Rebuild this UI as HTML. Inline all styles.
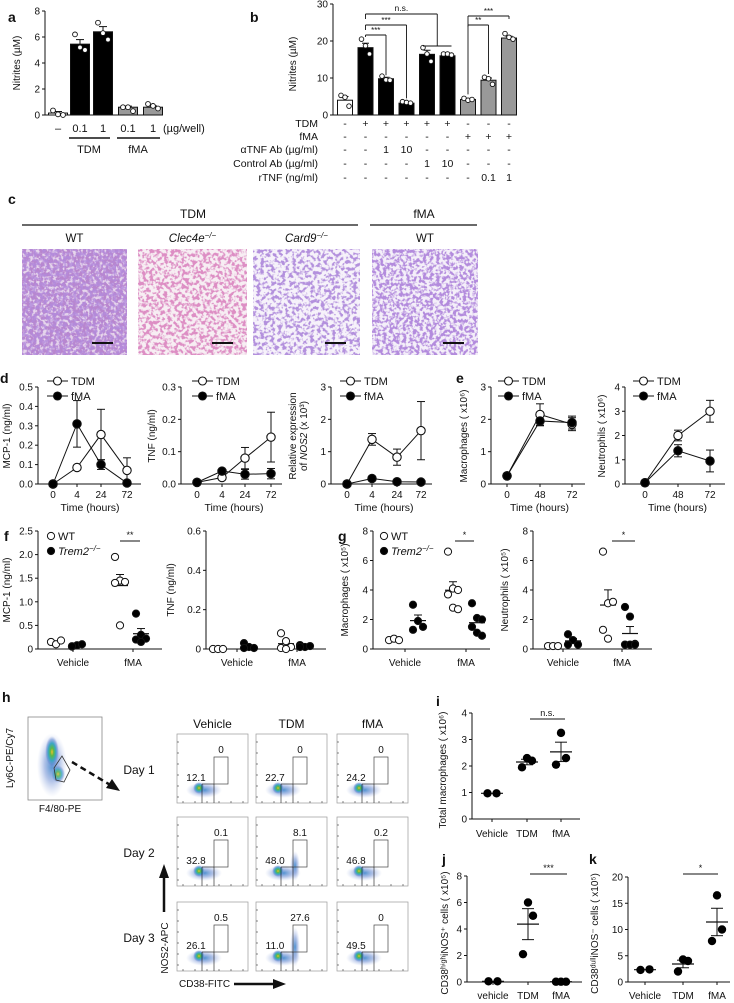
<!DOCTYPE html>
<html><head><meta charset="utf-8"><title>Figure</title>
<style>
html,body{margin:0;padding:0;background:#fff;}
svg{display:block;font-family:"Liberation Sans",Arial,sans-serif;}
text{fill:#111;}
</style></head>
<body>
<svg id="fig" width="734" height="1003" viewBox="0 0 734 1003" xmlns="http://www.w3.org/2000/svg">
<defs>
<radialGradient id="heat" cx="50%" cy="50%" r="50%">
<stop offset="0" stop-color="#f0c02a"/><stop offset="0.25" stop-color="#58b848"/><stop offset="0.55" stop-color="#3aa6c4"/><stop offset="0.8" stop-color="#6f8fd4" stop-opacity="0.6"/><stop offset="1" stop-color="#a9b9e6" stop-opacity="0"/>
</radialGradient>
<radialGradient id="cool" cx="50%" cy="50%" r="50%">
<stop offset="0" stop-color="#4a8fcf"/><stop offset="0.5" stop-color="#7d9ad8" stop-opacity="0.6"/><stop offset="1" stop-color="#b0bfe8" stop-opacity="0"/>
</radialGradient>
<filter id="h1" x="0" y="0" width="100%" height="100%"><feTurbulence type="fractalNoise" baseFrequency="0.3" numOctaves="2" seed="3"/><feColorMatrix type="matrix" values="0 0 0 0 0.48  0 0 0 0 0.24  0 0 0 0 0.62  6 0 0 0 -2.3"/></filter>
<filter id="h2" x="0" y="0" width="100%" height="100%"><feTurbulence type="fractalNoise" baseFrequency="0.28" numOctaves="2" seed="7"/><feColorMatrix type="matrix" values="0 0 0 0 0.72  0 0 0 0 0.27  0 0 0 0 0.55  6 0 0 0 -2.7"/></filter>
<filter id="h3" x="0" y="0" width="100%" height="100%"><feTurbulence type="fractalNoise" baseFrequency="0.28" numOctaves="2" seed="11"/><feColorMatrix type="matrix" values="0 0 0 0 0.45  0 0 0 0 0.28  0 0 0 0 0.72  6 0 0 0 -2.8"/></filter>
<filter id="h4" x="0" y="0" width="100%" height="100%"><feTurbulence type="fractalNoise" baseFrequency="0.3" numOctaves="2" seed="19"/><feColorMatrix type="matrix" values="0 0 0 0 0.45  0 0 0 0 0.26  0 0 0 0 0.72  6 0 0 0 -2.6"/></filter>
</defs>
</svg>
<script>
// ---------- data ----------
const aCats = ['–','0.1','1','0.1','1'];
const aVals = [0.15, 5.45, 6.4, 0.6, 0.6];
const aErr = [0.12, 0.35, 0.4, 0.08, 0.1];
const aPts = [[0.35,0.05,0.0],[6.2,5.2,5.0],[7.1,6.3,5.8],[0.6,0.6,0.3],[0.85,0.7,0.5]];
const aTicks = [0,2,4,6,8];

const bVals = [4.0, 18.2, 9.8, 3.2, 16.4, 16.0, 4.2, 9.4, 20.8];
const bErr = [1.0, 1.2, 0.4, 0.2, 1.1, 0.2, 0.3, 0.6, 0.5];
const bPts = [[5.3,4.8,2.4],[20.5,18.7,16.5],[10.5,9.5,9.4],[3.6,3.4,3.2],[18.2,16.5,14.5],[16.5,16.5,16.2],[4.5,4.0,4.2],[10.2,9.8,8.3],[22,21,20.5]];
const bTicks = [0,10,20,30];
const bRowLabels = ['TDM','fMA','αTNF Ab (µg/ml)','Control Ab (µg/ml)','rTNF (ng/ml)'];
const bRows = [
 ['-','+','+','+','+','+','-','-','-'],
 ['-','-','-','-','-','-','+','+','+'],
 ['-','-','1','10','-','-','-','-','-'],
 ['-','-','-','-','1','10','-','-','-'],
 ['-','-','-','-','-','-','-','0.1','1']];

const timeCats = ['0','4','24','72'];
const d1TDM = [0, 0.085, 0.255, 0.07], d1TDMe = [0, 0, 0.13, 0.065];
const d1FMA = [0, 0.31, 0.10, 0.005], d1FMAe = [0, 0.12, 0.025, 0];
const d2TDM = [0.005, 0.02, 0.08, 0.145], d2TDMe = [0, 0, 0.033, 0.077];
const d2FMA = [0.005, 0.04, 0.03, 0.032], d2FMAe = [0, 0, 0.015, 0.016];
const d3TDM = [0, 1.38, 0.83, 1.65], d3TDMe = [0, 0.18, 0.25, 0.9];
const d3FMA = [0, 0.17, 0.07, 0.06], d3FMAe = [0, 0, 0, 0];
const eCats = ['0','48','72'];
const e1TDM = [0.25, 2.15, 1.85], e1TDMe = [0, 0.33, 0.2];
const e1FMA = [0.25, 1.95, 1.9], e1FMAe = [0, 0.15, 0.2];
const e2TDM = [0.05, 2.0, 3.0], e2TDMe = [0, 0.22, 0.45];
const e2FMA = [0.05, 1.37, 0.95], e2FMAe = [0, 0.25, 0.45];

const fgCats = ['Vehicle','fMA'];
const f1WT = [[0.15,0.1,0.18],[1.95,1.45,1.42,1.4,0.5]];
const f1KO = [[0.05,0.08,0.1,0.06],[0.75,0.3,0.22,0.2,0.15]];
const f2WT = [[0,0,0],[0.08,0.04,0.01,0.005,0.0]];
const f2KO = [[0.03,0.01,0.005,0.005],[0.02,0.01,0.015,0.01]];
const g1WT = [[0.6,0.7,0.6],[6.6,4.1,4.0,3.7,2.8,2.7]];
const g1KO = [[3.0,1.9,1.5,1.3],[3.1,2.1,2.0,1.5,1.1,0.9]];
const g2WT = [[0.2,0.2,0.2],[6.6,3.1,3.2,1.3,0.7]];
const g2KO = [[1.0,0.6,0.3,0.3],[2.85,2.2,0.35,0.3,0.3,0.3]];

const ijkCats = ['Vehicle','TDM','fMA'];
const iVals = [[0.97,0.97],[2.3,2.2,1.95],[3.25,2.3,2.05]];
const jVals = [[0.05,0.05],[6.0,5.0,2.1],[0.02,0.02,0.02]];
const kVals = [[2.3,2.4],[4.3,4.0,2.0],[16.5,10,7.8]];

const flowCols = ['Vehicle','TDM','fMA'];
const flowDays = ['Day 1','Day 2','Day 3'];
const flowHigh = [['0','0','0'],['0.1','8.1','0.2'],['0.5','27.6','0']];
const flowLow = [['12.1','22.7','24.2'],['32.8','48.0','46.8'],['26.1','11.0','49.5']];

// ---------- helpers ----------
const svg = document.getElementById('fig');
const NS = 'http://www.w3.org/2000/svg';
function el(tag, a, parent){ const e=document.createElementNS(NS,tag); for(const k in a) e.setAttribute(k,a[k]); (parent||svg).appendChild(e); return e; }
function lin(d0,d1,r0,r1){ return v => r0+(v-d0)*(r1-r0)/(d1-d0); }
function txt(x,y,s,size,anchor,parent,extra){ const t=el('text',Object.assign({x:x,y:y,'font-size':size,'text-anchor':anchor||'middle'},extra||{}),parent); t.textContent=s; return t; }
function line(x1,y1,x2,y2,parent,w){ return el('line',{x1:x1,y1:y1,x2:x2,y2:y2,stroke:'#111','stroke-width':w||1},parent); }
function group(name){ const g=el('g',{});   return g; }
function letter(x,y,s){ const t=txt(x,y,s,14,'start',svg,{'font-weight':'bold'});   }
function yAxis(g, x, sc, ticks, labels, yTop, yBot, size){
  const ax=line(x,yTop,x,yBot,g);  
  ticks.forEach((v,i)=>{ const y=sc(v); line(x-3,y,x,y,g); const t=txt(x-5,y+3.5,labels[i],size||10,'end',g);   });
}
function yTitle(g, x, y, s, size){ const t=txt(x,y,s,size||10,'middle',g,{transform:'rotate(-90 '+x+' '+y+')'});   return t; }
function errBar(g,x,y1,y2,cap){ line(x,y1,x,y2,g); line(x-cap,y1,x+cap,y1,g); }

// ---------- panel a ----------
letter(8,22,'a');
(function(){
  const g=group('panel-a-chart');
  const y=lin(0,8,115,11); const xs=[58,80,103,128,153]; const bw=19;
  yAxis(g,45,y,aTicks,aTicks.map(String),11,115,10);
  line(45,115,163,115,g);
  yTitle(g,20,63,'Nitrites (µM)');
  const fills=['#fff','#000','#000','#999','#999'];
  aVals.forEach((v,i)=>{
    errBar(g,xs[i],y(v+aErr[i]),y(v),4);
    const r=el('rect',{x:xs[i]-bw/2,y:y(v),width:bw,height:115-y(v),fill:fills[i],stroke:'#111','stroke-width':1},g);
     
    aPts[i].forEach((p,j)=>{ const c=el('circle',{cx:xs[i]+(j-1)*5,cy:y(p),r:2.4,fill:'#fff',stroke:'#111','stroke-width':0.9},g);   });
    const t=txt(xs[i],132,aCats[i],11,'middle',g);  
  });
  txt(163,132,'(µg/well)',11,'start',g);
  line(69,138,110,138,g,1.5); line(117,138,160,138,g,1.5);
  txt(89,153,'TDM',11,'middle',g); txt(138,153,'fMA',11,'middle',g);
})();

// ---------- panel b ----------
letter(250,22,'b');
(function(){
  const g=group('panel-b-chart');
  const y=lin(0,30,115,4); const x0=345, dx=20.5, bw=15;
  const xs=bVals.map((v,i)=>x0+i*dx);
  yAxis(g,333,y,bTicks,bTicks.map(String),4,115,10);
  line(333,115,517,115,g);
  yTitle(g,296,64,'Nitrites (µM)');
  bVals.forEach((v,i)=>{
    const f=i===0?'#fff':(i<6?'#000':'#999');
    errBar(g,xs[i],y(v+bErr[i]),y(v),3.5);
    const r=el('rect',{x:xs[i]-bw/2,y:y(v),width:bw,height:115-y(v),fill:f,stroke:'#111','stroke-width':1},g);
     
    bPts[i].forEach((p,j)=>{ const c=el('circle',{cx:xs[i]+(j-1)*4,cy:y(p),r:2.3,fill:'#fff',stroke:'#111','stroke-width':0.9},g);   });
  });
  const rowY=[127,140,153,167,181];
  bRowLabels.forEach((s,r)=>{
    const t=txt(318,rowY[r],s,10.5,'end',g);  
    bRows[r].forEach((v,i)=>txt(xs[i],rowY[r],v,10.5,'middle',g));
  });
  function br(i1,i2,yy,d1,d2,label){ const a=xs[i1],b=xs[i2]; line(a,yy,b,yy,g,0.9); line(a,yy,a,yy+d1,g,0.9); line(b,yy,b,yy+d2,g,0.9); txt((a+b)/2,yy-2,label,8,'middle',g); }
  br(1,2,35,2,y(bVals[2]+bErr[2])-37,'***');
  br(1,3,25,5,y(bVals[3]+bErr[3])-29,'***');
  const nsx=(xs[4]+xs[5])/2;
  line(xs[1],14,nsx,14,g,0.9); line(xs[1],14,xs[1],19,g,0.9); line(nsx,14,nsx,46,g,0.9);
  line(xs[4]-4,46,xs[5]+4,46,g,0.9); txt((xs[1]+nsx)/2,11,'n.s.',8.5,'middle',g);
  br(6,8,16,y(bVals[6]+bErr[6])-20,3,'***');
  br(6,7,25,2,y(bVals[7]+bErr[7])-29,'**');
})();

// ---------- panel c ----------
letter(8,204,'c');
(function(){
  const g=group('panel-c-histology');
  txt(193,218,'TDM',12,'middle',g); line(22,225,358,225,g,1.3);
  txt(424,218,'fMA',12,'middle',g); line(370,225,477,225,g,1.3);
  const imgs=[[22,127,'WT','h1','#e6d6ec'],[138,247,'Clec4e','h2','#f7eef3'],[253,360,'Card9','h3','#f6f2fa'],[372,478,'WT','h4','#f4eff9']];
  imgs.forEach((m,i)=>{
    const w=m[1]-m[0];
    if(m[2]==='WT') txt((m[0]+m[1])/2,242,'WT',11.5,'middle',g);
    else { const t=txt((m[0]+m[1])/2,242,'',11.5,'middle',g,{'font-style':'italic'}); t.textContent=m[2]; const s=el('tspan',{dy:-4,'font-size':8},t); s.textContent='−/−'; }
    const bg=el('rect',{x:m[0],y:249,width:w,height:106,fill:m[4]},g);
     
    el('rect',{x:m[0],y:249,width:w,height:106,fill:'#fff',filter:'url(#'+m[3]+')'},g);
    if(i===0){ el('rect',{x:m[0],y:249,width:w,height:106,fill:'#fff',filter:'url(#h4)',opacity:0.8},g); }
    line(m[1]-35,343,m[1]-14,343,g,2);
  });
})();

// ---------- line charts d/e ----------
function lineChart(name,ax,xEnd,xs,cats,yMax,ticks,labels,series,titles,titleX,legX){
  const g=group(name);
  const y=lin(0,yMax,484,387);
  yAxis(g,ax,y,ticks,labels,387,484,10);
  line(ax,484,xEnd,484,g);
  cats.forEach((c,i)=>{ line(xs[i],484,xs[i],487,g); const t=txt(xs[i],498,c,10,'middle',g);   });
  const tt=txt((xs[0]+xs[xs.length-1])/2,511,'Time (hours)',10.5,'middle',g);  
  if(titles.length===1) yTitle(g,titleX,436,titles[0]);
  else { yTitle(g,titleX-6,436,titles[0]); const t2=yTitle(g,titleX+5,436,''); t2.textContent='of '; const s=el('tspan',{'font-style':'italic'},t2); s.textContent='NOS2'; const s2=el('tspan',{},t2); s2.textContent=' (x 10³)'; }
  series.forEach((s,k)=>{
    const pts=s.v.map((v,i)=>xs[i]+','+y(v)).join(' ');
    const pl=el('polyline',{points:pts,fill:'none',stroke:'#111','stroke-width':1},g);
     
    s.v.forEach((v,i)=>{ if(s.e[i]>0){ errBar(g,xs[i],y(v+s.e[i]),y(v-s.e[i]>0?v-s.e[i]:0),4); line(xs[i]-4,y(Math.max(0,v-s.e[i])),xs[i]+4,y(Math.max(0,v-s.e[i])),g);} });
  });
  series.forEach((s,k)=>{ s.v.forEach((v,i)=>{ const c=el('circle',{cx:xs[i],cy:y(v),r:4.2,fill:s.fill,stroke:'#111','stroke-width':1.1},g);   }); });
  [['TDM','#fff',381],['fMA','#000',396]].forEach(l=>{ line(legX,l[2],legX+21,l[2],g); el('circle',{cx:legX+10.5,cy:l[2],r:4,fill:l[1],stroke:'#111','stroke-width':1.1},g); const t=txt(legX+24,l[2]+4,l[0],11,'start',g);   });
}
letter(0,383,'d');
lineChart('panel-d-mcp1',38,141,[53,77,101,127],timeCats,0.5,[0,0.1,0.2,0.3,0.4,0.5],['0.0','0.1','0.2','0.3','0.4','0.5'],
  [{n:'tdm',v:d1TDM,e:d1TDMe,fill:'#fff'},{n:'fma',v:d1FMA,e:d1FMAe,fill:'#000'}],['MCP-1 (ng/ml)'],10,47);
lineChart('panel-d-tnf',181,282,[197,222,245,271],timeCats,0.3,[0,0.1,0.2,0.3],['0.0','0.1','0.2','0.3'],
  [{n:'tdm',v:d2TDM,e:d2TDMe,fill:'#fff'},{n:'fma',v:d2FMA,e:d2FMAe,fill:'#000'}],['TNF (ng/ml)'],155,192);
lineChart('panel-d-nos2',331,432,[347,372,397,421],timeCats,3,[0,1,2,3],['0','1','2','3'],
  [{n:'tdm',v:d3TDM,e:d3TDMe,fill:'#fff'},{n:'fma',v:d3FMA,e:d3FMAe,fill:'#000'}],['Relative expression','x'],302,340);
letter(456,383,'e');
lineChart('panel-e-macrophages',491,585,[507,540,572],eCats,3,[0,1,2,3],['0','1','2','3'],
  [{n:'tdm',v:e1TDM,e:e1TDMe,fill:'#fff'},{n:'fma',v:e1FMA,e:e1FMAe,fill:'#000'}],['Macrophages ( x10⁶)'],467,498);
lineChart('panel-e-neutrophils',625,725,[645,678,710],eCats,4,[0,1,2,3,4],['0','1','2','3','4'],
  [{n:'tdm',v:e2TDM,e:e2TDMe,fill:'#fff'},{n:'fma',v:e2FMA,e:e2FMAe,fill:'#000'}],['Neutrophils ( x10⁶)'],605,633);

// ---------- scatter f/g ----------
function scatterFG(name,ax,xEnd,catX,wtX,koX,yMax,ticks,labels,WT,KO,title,titleX,sig,legend){
  const g=group(name);
  const y=lin(0,yMax,649,531);
  yAxis(g,ax,y,ticks,labels,531,649,10);
  line(ax,649,xEnd,649,g);
  fgCats.forEach((c,i)=>{ line(catX[i],649,catX[i],652,g); const t=txt(catX[i],666,c,10,'middle',g);   });
  yTitle(g,titleX,590,title);
  [[WT,wtX,'#fff','wt'],[KO,koX,'#000','ko']].forEach(s=>{
    s[0].forEach((arr,i)=>{
      const n=arr.length; const m=arr.reduce((a,b)=>a+b,0)/n;
      const sd=Math.sqrt(arr.reduce((a,b)=>a+(b-m)*(b-m),0)/(n-1||1))/Math.sqrt(n);
      const cx=s[1][i];
      line(cx-8,y(m),cx+8,y(m),g,1.2); line(cx,y(m),cx,y(m+sd),g); line(cx-4,y(m+sd),cx+4,y(m+sd),g);
      arr.forEach((v,j)=>{ const c=el('circle',{cx:cx+((j%3)-1)*5,cy:y(v),r:3.6,fill:s[2],stroke:'#111','stroke-width':1},g);   });
    });
  });
  if(sig){ line(sig[0],541,sig[1],541,g,1); txt((sig[0]+sig[1])/2,538,sig[2],9,'middle',g); }
  if(legend){ el('circle',{cx:legend,cy:536,r:3.6,fill:'#fff',stroke:'#111'},g); txt(legend+7,540,'WT',11,'start',g);
    el('circle',{cx:legend,cy:551,r:3.6,fill:'#000',stroke:'#111'},g); const t=txt(legend+7,555,'',11,'start',g,{'font-style':'italic'}); t.textContent='Trem2'; const s=el('tspan',{dy:-4,'font-size':8},t); s.textContent='−/−'; }
}
letter(4,541,'f');
scatterFG('panel-f-mcp1',38,162,[73,133],[56,120],[77,141],2.5,[0,0.5,1,1.5,2,2.5],['0','0.5','1.0','1.5','2.0','2.5'],f1WT,f1KO,'MCP-1 (ng/ml)',10,[120,140,'**'],51);
scatterFG('panel-f-tnf',206,326,[237,297],[218,286],[249,305],0.6,[0,0.2,0.4,0.6],['0','0.2','0.4','0.6'],f2WT,f2KO,'TNF (ng/ml)',174,null,null);
letter(338,541,'g');
scatterFG('panel-g-macrophages',373,490,[405,466],[394,453],[418,477],8,[0,2,4,6,8],['0','2','4','6','8'],g1WT,g1KO,'Macrophages ( x10⁵)',348,[455,474,'*'],384);
scatterFG('panel-g-neutrophils',533,652,[563,622],[553,608],[573,630],8,[0,2,4,6,8],['0','2','4','6','8'],g2WT,g2KO,'Neutrophils ( x10⁵)',508,[612,635,'*'],null);

// ---------- panel h (flow) ----------
letter(2,702,'h');
(function(){
  const g=group('panel-h-flow');
  const big=el('rect',{x:28,y:717,width:74,height:83,fill:'#fff',stroke:'#888','stroke-width':0.8},g);
   
  el('ellipse',{cx:52,cy:765,rx:15,ry:32,fill:'url(#cool)'},g);
  el('ellipse',{cx:52,cy:752,rx:7,ry:16,fill:'url(#heat)'},g);
  el('ellipse',{cx:58,cy:774,rx:7,ry:9,fill:'url(#heat)',opacity:0.8},g);
  el('polygon',{points:'54,768 62,756 70,770 64,782 56,780',fill:'none',stroke:'#333','stroke-width':0.8},g);
  txt(60,812,'F4/80-PE',10,'middle',g);
  yTitle(g,13,758,'Ly6C-PE/Cy7',10);
  el('line',{x1:72,y1:762,x2:112,y2:786,stroke:'#111','stroke-width':2.5,'stroke-dasharray':'6,4'},g);
  el('polygon',{points:'120,791 106,788 112,779',fill:'#111'},g);
  const colX=[177,256,337], rowY=[734,817,902], pw=71, ph=69;
  flowCols.forEach((c,i)=>{ const t=txt(colX[i]+pw/2,728,c,12,'middle',g);   });
  flowDays.forEach((d,r)=>{ const t=txt(139,rowY[r]+40,d,12,'middle',g);   });
  flowDays.forEach((d,r)=>flowCols.forEach((c,i)=>{
    const x=colX[i], y=rowY[r];
    const p=el('rect',{x:x,y:y,width:pw,height:ph,fill:'#fff',stroke:'#999','stroke-width':0.7},g);
     
    for(let k=0;k<6;k++){ line(x,y+8+k*11,x+2,y+8+k*11,g,0.5); line(x+6+k*12,y+ph,x+6+k*12,y+ph-2,g,0.5); }
    el('ellipse',{cx:x+27,cy:y+ph-13,rx:18,ry:8,fill:'url(#cool)'},g);
    el('ellipse',{cx:x+22,cy:y+ph-15,rx:6,ry:6,fill:'url(#heat)'},g);
    if(i===1 && r>0) el('ellipse',{cx:x+39,cy:y+ph-(r===2?24:20),rx:5,ry:r===2?20:15,fill:'url(#cool)'},g);
    el('rect',{x:x+37,y:y+23,width:14,height:27,fill:'none',stroke:'#444','stroke-width':0.7},g);
    line(x+25,y+50,x+25,y+ph,g,0.6); line(x+37,y+50,x+37,y+ph,g,0.6); line(x+25,y+50,x+37,y+50,g,0.6);
    txt(x+44,y+19,flowHigh[r][i],10,'middle',g);
    txt(x+19,y+47,flowLow[r][i],10,'middle',g);
  }));
  line(164,912,164,877,g,2.5); el('polygon',{points:'164,864 159,878 169,878',fill:'#111'},g);
  yTitle(g,168,948,'NOS2-APC',10);
  txt(179,987,'CD38-FITC',10,'start',g);
  line(234,984,275,984,g,2.5); el('polygon',{points:'286,984 273,979 273,989',fill:'#111'},g);
})();

// ---------- panels i, j, k ----------
function dotPlot(name,ax,xEnd,catX,cats,yTop,yBot,yMax,ticks,vals,title,titleX,sig,labY){
  const g=group(name);
  const y=lin(0,yMax,yBot,yTop);
  yAxis(g,ax,y,ticks,ticks.map(String),yTop,yBot,10);
  line(ax,yBot,xEnd,yBot,g);
  cats.forEach((c,i)=>{ line(catX[i],yBot,catX[i],yBot+3,g); const t=txt(catX[i],labY,c,10,'middle',g);   });
  yTitle(g,titleX,(yTop+yBot)/2+4,title);
  vals.forEach((arr,i)=>{
    const n=arr.length, m=arr.reduce((a,b)=>a+b,0)/n;
    const se=n>2?Math.sqrt(arr.reduce((a,b)=>a+(b-m)*(b-m),0)/(n-1))/Math.sqrt(n):0;
    const cx=catX[i];
    line(cx-11,y(m),cx+11,y(m),g,1.2);
    if(se>0){ line(cx,y(m-se),cx,y(m+se),g); line(cx-6,y(m+se),cx+6,y(m+se),g); line(cx-6,y(m-se),cx+6,y(m-se),g); }
    arr.forEach((v,j)=>{ const off=n===2?(j-0.5)*9:(j===0?0:(j===1?5:-5)); const c=el('circle',{cx:cx+off,cy:y(v),r:4.2,fill:'#000'},g);   });
  });
  line(sig[0],sig[2],sig[1],sig[2],g,1); txt((sig[0]+sig[1])/2,sig[2]-3,sig[3],9,'middle',g);
}
letter(436,706,'i');
dotPlot('panel-i-total-macrophages',472,580,[492,527,561],ijkCats,713,819,4,[0,1,2,3,4],iVals,'Total macrophages ( x10⁶)',446,[530,565,719,'n.s.'],837);
letter(442,864,'j');
dotPlot('panel-j-cd38high',467,582,[493,528,561],['vehicle','TDM','fMA'],876,982,8,[0,2,4,6,8],jVals,'CD38ʰⁱᵍʰiNOS⁺ cells ( x10⁵)',448,[530,567,874,'***'],999);
letter(589,864,'k');
dotPlot('panel-k-cd38dull',628,730,[645,683,717],ijkCats,877,982,20,[0,5,10,15,20],kVals,'CD38ᵈᵘˡˡiNOS⁻ cells ( x10⁵)',598,[683,718,874,'*'],999);
</script>
</body></html>
